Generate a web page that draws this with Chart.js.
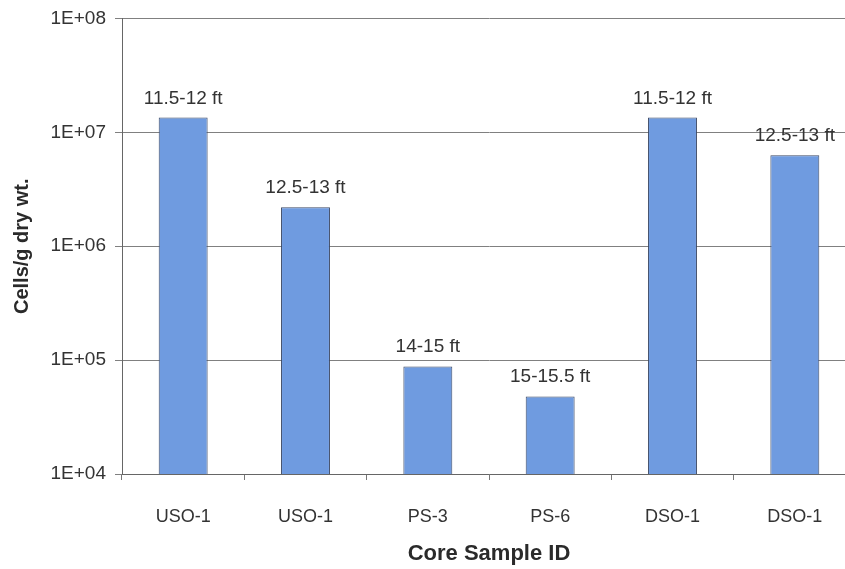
<!DOCTYPE html>
<html>
<head>
<meta charset="utf-8">
<script src="https://cdn.jsdelivr.net/npm/chart.js@4/dist/chart.umd.min.js"></script>
<style>
  html, body { margin: 0; padding: 0; background: #fff; overflow: hidden; }
  #wrap { width: 856px; height: 569px; }
</style>
</head>
<body>
<div id="wrap"><canvas id="chart"></canvas></div>
<script>
// categories and values
const sampleIds = ['USO-1', 'USO-1', 'PS-3', 'PS-6', 'DSO-1', 'DSO-1'];
const depthLabels = ['11.5-12 ft', '12.5-13 ft', '14-15 ft', '15-15.5 ft', '11.5-12 ft', '12.5-13 ft'];
const cellCounts = [1.35e7, 2.2e6, 8.8e4, 4.8e4, 1.35e7, 6.3e6];
const yTickValues = [1e4, 1e5, 1e6, 1e7, 1e8];

const FONT = '"Liberation Sans", Arial, sans-serif';

// text above each bar
const depthLabelPlugin = {
    id: 'depthLabels',
    afterDatasetsDraw(chart) {
        const ctx = chart.ctx;
        const meta = chart.getDatasetMeta(0);
        ctx.save();
        ctx.font = '19px ' + FONT;
        ctx.fillStyle = '#333';
        ctx.textAlign = 'center';
        ctx.textBaseline = 'alphabetic';
        meta.data.forEach((bar, i) => {
            ctx.fillText(depthLabels[i], bar.x, bar.y - 14);
        });
        ctx.restore();
    }
};

new Chart(document.getElementById('chart'), {
    type: 'bar',
    data: {
        labels: sampleIds,
        datasets: [{
            data: cellCounts,
            backgroundColor: '#6f9be0',
            borderColor: '#3d4a66',
            borderWidth: 1,
            barPercentage: 0.4,
            categoryPercentage: 1
        }]
    },
    options: {
        responsive: true,
        maintainAspectRatio: false,
        animation: false,
        layout: { padding: { top: 10, right: 0, left: 0, bottom: 0 } },
        plugins: {
            legend: { display: false },
            tooltip: { enabled: false }
        },
        scales: {
            x: {
                grid: {
                    display: true,
                    drawOnChartArea: false,
                    drawTicks: true,
                    tickLength: 6,
                    color: '#777',
                    offset: true
                },
                border: { color: '#666', width: 1 },
                ticks: {
                    color: '#333',
                    font: { family: FONT, size: 18 },
                    padding: 26,
                    maxRotation: 0
                },
                title: {
                    display: true,
                    text: 'Core Sample ID',
                    color: '#2a2a2a',
                    font: { family: FONT, size: 22, weight: 'bold' },
                    padding: { top: 0, bottom: 2 }
                },
                afterFit(scale) { scale.height = 95; }
            },
            y: {
                type: 'logarithmic',
                min: 1e4,
                max: 1e8,
                grid: {
                    color: '#808080',
                    lineWidth: 1,
                    tickLength: 7
                },
                border: { color: '#666', width: 1 },
                afterBuildTicks(scale) {
                    scale.ticks = yTickValues.map(v => ({ value: v }));
                },
                ticks: {
                    color: '#333',
                    font: { family: FONT, size: 19, lineHeight: 1 },
                    padding: 9,
                    callback(value) {
                        return '1E+' + String(Math.round(Math.log10(value))).padStart(2, '0');
                    }
                },
                title: {
                    display: true,
                    text: 'Cells/g dry wt.',
                    color: '#2a2a2a',
                    font: { family: FONT, size: 20, weight: 'bold' },
                    padding: { top: 10, bottom: 0 }
                },
                afterFit(scale) { scale.width = 122; }
            }
        }
    },
    plugins: [depthLabelPlugin]
});
</script>
</body>
</html>
